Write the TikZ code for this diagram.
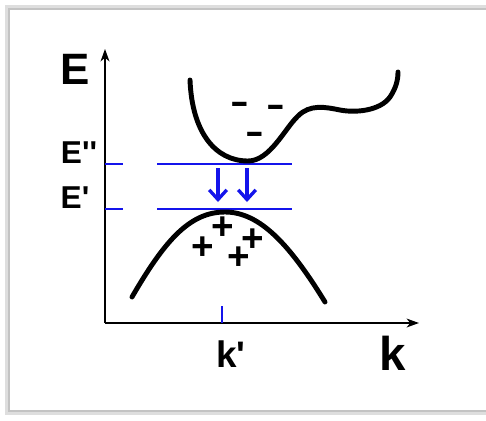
\documentclass[tikz,border=0pt]{standalone}
\usepackage{fontspec}
\newfontfamily\arial{Liberation Sans}
\usetikzlibrary{arrows.meta}
\definecolor{levelblue}{RGB}{20,20,235}
\definecolor{framegray}{RGB}{195,195,195}
\newcommand{\fsz}[1]{\arial\bfseries\fontsize{#1}{#1}\selectfont}

\begin{document}
\begin{tikzpicture}[x=0.02cm,y=-0.02cm,
    band/.style={line width=2.8pt,line cap=round},
    level/.style={levelblue,line width=1.2pt},
    axis/.style={line width=1.1pt,-{Stealth[length=7pt,width=5pt,inset=2pt]}},
    lab/.style={inner sep=0pt}]
  \useasboundingbox (0,0) rectangle (486,420);
  % frame
  \draw[framegray!55,line width=2pt] (7,7) rectangle (530,413);
  \draw[framegray,line width=0.9pt] (9,9) rectangle (530,411);

  % axes
  \coordinate (orig) at (105,323);
  \coordinate (etop) at (105,49);
  \coordinate (kend) at (419,323);
  \draw[axis] (orig) -- (etop);
  \draw[axis] (orig) -- (kend);

  % levels E'' and E'
  \foreach \n/\y in {up/164,lo/209}
  {
    \coordinate (\n a) at (105,\y);
    \coordinate (\n b) at (123,\y);
    \coordinate (\n c) at (157,\y);
    \coordinate (\n d) at (292,\y);
    \draw[level] (\n a) -- (\n b);
    \draw[level] (\n c) -- (\n d);
  }
  \coordinate (ktick) at (222,306);
  \coordinate (kfoot) at (222,323);
  \draw[level] (ktick) -- (kfoot);

  % transitions
  \foreach \i/\x in {1/218,2/247}
  {
    \coordinate (from\i) at (\x,168);
    \coordinate (to\i) at (\x,202);
    \draw[level,line width=1.9pt,-{Straight Barb[length=5.5pt,width=10pt]}] (from\i) -- (to\i);
  }

  % bands
  \draw[band] (190,80) .. controls (192,132) and (215,161) .. (248,161)
    .. controls (270,161) and (285,128) .. (298,116)
    .. controls (310,104) and (325,107) .. (340,110)
    .. controls (355,113) and (380,111) .. (390,97)
    .. controls (396,88) and (398,80) .. (398,72);
  \draw[band] (132,297) .. controls (165,240) and (190,212) .. (225,212)
    .. controls (260,212) and (290,245) .. (325,302);

  % carriers
  \foreach \i/\x/\y in {1/240/108,2/276/111,3/255/138}
    \node[lab,font=\fsz{20}] (minus\i) at (\x,\y) {\scalebox{1.6}[1]{-}};
  \foreach \i/\x/\y in {1/223/228,2/203/248,3/253/240,4/239/258}
    \node[lab,font=\fsz{22}] (plus\i) at (\x,\y) {+};

  % labels
  \node[lab,font=\fsz{25}] (elab) at (75,69) {E};
  \node[lab,font=\fsz{18}] (eupper) at (79,153) {E\textquotesingle\textquotesingle};
  \node[lab,font=\fsz{18}] (elower) at (75,198) {E\textquotesingle};
  \node[lab,font=\fsz{21}] (kprime) at (231,354) {k\textquotesingle};
  \node[lab,font=\fsz{27}] (klab) at (393,353) {k};
\end{tikzpicture}
\end{document}
